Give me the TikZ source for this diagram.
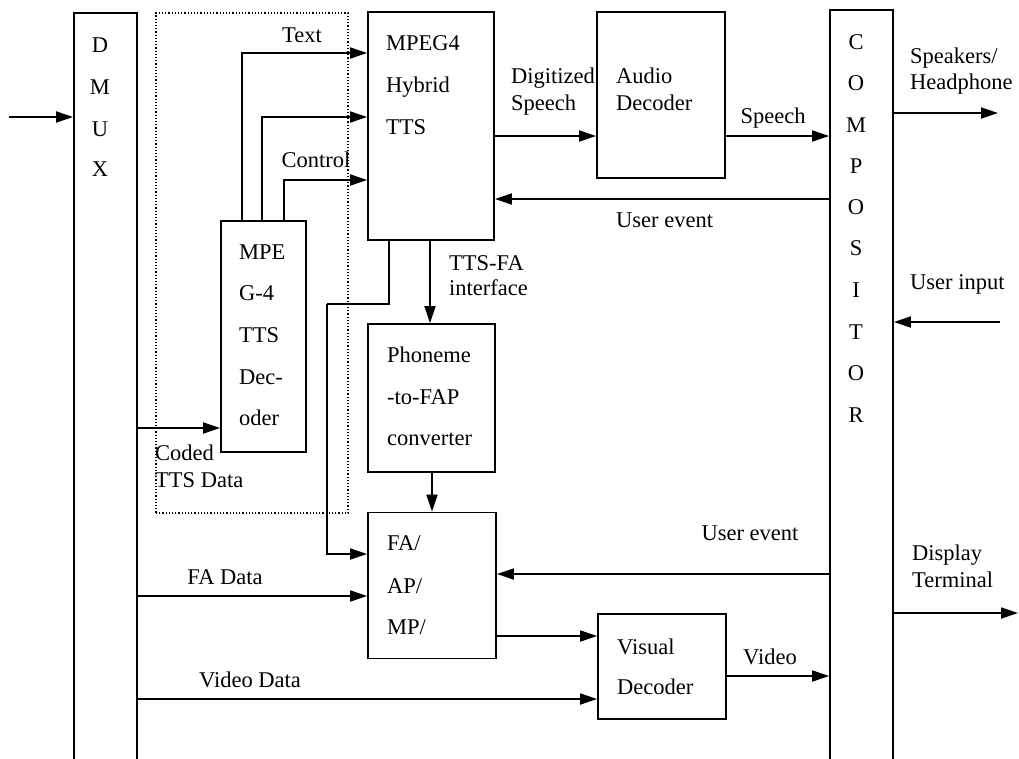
\documentclass[tikz,border=0pt]{standalone}
\usepackage{fontspec}
\setmainfont{Liberation Serif}
\usetikzlibrary{arrows.meta,calc}
\begin{document}
\begin{tikzpicture}[x=1pt,y=-1pt,
  font=\fontsize{22.5pt}{26pt}\selectfont,
  box/.style={draw, line width=1.8pt, inner sep=0pt},
  lbl/.style={inner sep=0pt, text height=14.6pt, text depth=0pt},
  lw/.style={lbl, anchor=west},
  arr/.style={line width=1.8pt, -{Triangle[length=17pt,width=11pt]}},
  ln/.style={line width=1.8pt},
  dotbox/.style={draw, dotted, line width=1.2pt, inner sep=0pt}]
\useasboundingbox (0,0) rectangle (1019,758);
\begin{scope}
\clip (0,0) rectangle (1019,758);
% boxes
\node[box, minimum width=63pt, minimum height=760pt] (dmux) at (105.5,393) {};
\node[box, minimum width=63pt, minimum height=760pt] (comp) at (861.5,390) {};
\node[dotbox, minimum width=192pt, minimum height=500pt] (dot) at (252,263) {};
\node[box, minimum width=126pt, minimum height=228pt] (tts) at (431,126) {};
\node[box, minimum width=85pt, minimum height=231pt] (dec) at (263.5,336.5) {};
\node[box, minimum width=128pt, minimum height=166pt] (aud) at (661,95) {};
\node[box, minimum width=127pt, minimum height=148pt] (pho) at (431.5,398) {};
\node[box, minimum width=128pt, minimum height=146pt] (fa) at (432,585.5) {};
\node[box, minimum width=128pt, minimum height=105pt] (vis) at (662,666.5) {};

% named coordinates
\coordinate (in) at (9,117);
\coordinate (xText) at (242,0);
\coordinate (xMid) at (262,0);
\coordinate (xCtl) at (284,0);
\coordinate (yText) at (0,53);
\coordinate (yMid) at (0,117);
\coordinate (yCtl) at (0,180);
\coordinate (yCoded) at (0,428);
\coordinate (yDig) at (0,136);
\coordinate (yUE1) at (0,199);
\coordinate (yUE2) at (0,574);
\coordinate (yFA) at (0,596);
\coordinate (yMP) at (0,636);
\coordinate (yVD) at (0,699);
\coordinate (yVid) at (0,676);
\coordinate (ySpk) at (0,113);
\coordinate (yUI) at (0,322);
\coordinate (yDisp) at (0,613);
\coordinate (xL1) at (389,0);
\coordinate (xL2) at (430,0);
\coordinate (xL3) at (432,0);
\coordinate (bend) at (327,304);
\coordinate (yFAin) at (0,554);
\coordinate (spkEnd) at (998,0);
\coordinate (uiStart) at (1000,0);
\coordinate (dispEnd) at (1018,0);

% connectors
\draw[arr] (in) -- (dmux.west |- in);
\draw[arr] (dec.north -| xText) |- (tts.west |- yText);
\draw[arr] (dec.north -| xMid) |- (tts.west |- yMid);
\draw[arr] (dec.north -| xCtl) |- (tts.west |- yCtl);
\draw[arr] (dmux.east |- yCoded) -- (dec.west |- yCoded);
\draw[arr] (tts.east |- yDig) -- (aud.west |- yDig);
\draw[arr] (aud.east |- yDig) -- (comp.west |- yDig);
\draw[arr] (comp.west |- yUE1) -- (tts.east |- yUE1);
\draw[ln] (tts.south -| xL1) |- (bend);
\draw[arr] (bend) |- (fa.west |- yFAin);
\draw[arr] (tts.south -| xL2) -- (pho.north -| xL2);
\draw[arr] (pho.south -| xL3) -- (fa.north -| xL3);
\draw[arr] (dmux.east |- yFA) -- (fa.west |- yFA);
\draw[arr] (comp.west |- yUE2) -- (fa.east |- yUE2);
\draw[arr] (fa.east |- yMP) -- (vis.west |- yMP);
\draw[arr] (dmux.east |- yVD) -- (vis.west |- yVD);
\draw[arr] (vis.east |- yVid) -- (comp.west |- yVid);
\draw[arr] (comp.east |- ySpk) -- (spkEnd |- ySpk);
\draw[arr] (uiStart |- yUI) -- (comp.east |- yUI);
\draw[arr] (comp.east |- yDisp) -- (dispEnd |- yDisp);
\end{scope}

% DMUX letters
\node[lbl] (d1) at (100,45) {D};
\node[lbl] (d2) at (100,87) {M};
\node[lbl] (d3) at (100,129) {U};
\node[lbl] (d4) at (100,169) {X};
% COMPOSITOR letters
\node[lbl] (c1) at (856,42) {C};
\node[lbl] (c2) at (856,83) {O};
\node[lbl] (c3) at (856,125) {M};
\node[lbl] (c4) at (856,166) {P};
\node[lbl] (c5) at (856,207) {O};
\node[lbl] (c6) at (856,248) {S};
\node[lbl] (c7) at (856,290) {I};
\node[lbl] (c8) at (856,332) {T};
\node[lbl] (c9) at (856,373) {O};
\node[lbl] (c10) at (856,415) {R};

% labels
\node[lbl] (lText) at (302,35) {Text};
\node[lbl] (lCtl) at (316,160) {Control};
\node[lw] (t1) at (386,43) {MPEG4};
\node[lw] (t2) at (386,85) {Hybrid};
\node[lw] (t3) at (386,127) {TTS};
\node[lw] (m1) at (239,252) {MPE};
\node[lw] (m2) at (239,293) {G-4};
\node[lw] (m3) at (239,335) {TTS};
\node[lw] (m4) at (239,377) {Dec-};
\node[lw] (m5) at (239,418) {oder};
\node[lw] (cd1) at (155,453) {Coded};
\node[lw] (cd2) at (155,480) {TTS Data};
\node[lw] (tf1) at (449,263) {TTS-FA};
\node[lw] (tf2) at (449,288) {interface};
\node[lw] (p1) at (387,355) {Phoneme};
\node[lw] (p2) at (387,397) {-to-FAP};
\node[lw] (p3) at (387,438) {converter};
\node[lw] (f1) at (387,543) {FA/};
\node[lw] (f2) at (387,586) {AP/};
\node[lw] (f3) at (387,627) {MP/};
\node[lbl] (lFA) at (225,577) {FA Data};
\node[lbl] (lVD) at (250,680) {Video Data};
\node[lbl] (lUE2) at (750,533) {User event};
\node[lw] (v1) at (617,647) {Visual};
\node[lw] (v2) at (617,687) {Decoder};
\node[lbl] (lVid) at (770,657) {Video};
\node[lw] (ds1) at (912,553) {Display};
\node[lw] (ds2) at (912,580) {Terminal};
\node[lw] (sp1) at (910,56) {Speakers/};
\node[lw] (sp2) at (910,82) {Headphone};
\node[lw] (ui) at (910,282) {User input};
\node[lw] (a1) at (616,76) {Audio};
\node[lw] (a2) at (616,103) {Decoder};
\node[lw] (dg1) at (511,76) {Digitized};
\node[lw] (dg2) at (511,103) {Speech};
\node[lbl] (lSp) at (773,116) {Speech};
\node[lw] (lUE1) at (616,220) {User event};
\end{tikzpicture}
\end{document}
